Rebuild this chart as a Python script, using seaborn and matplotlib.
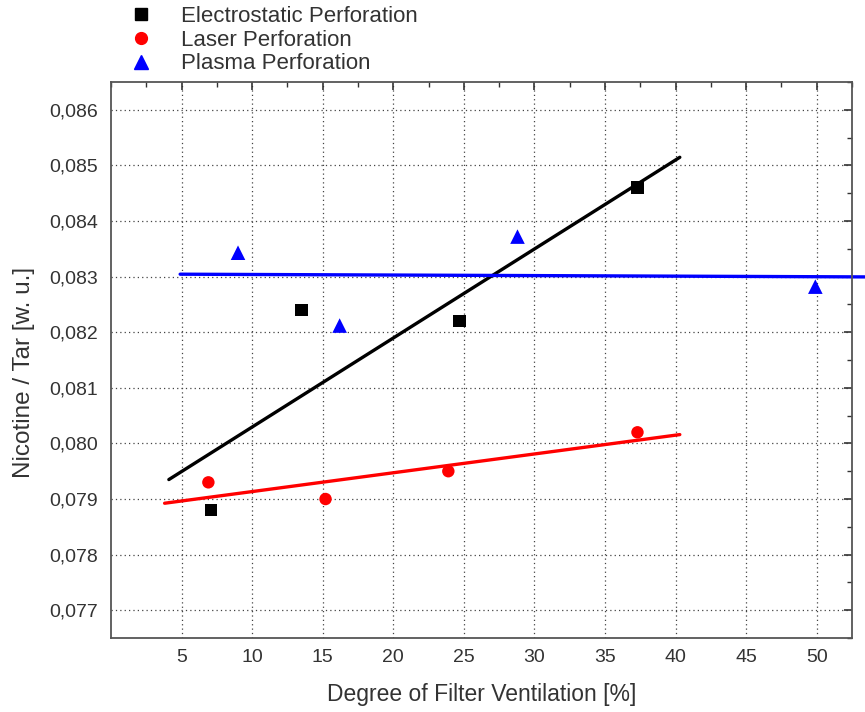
import numpy as np
import pandas as pd
import matplotlib
matplotlib.use("Agg")
import matplotlib.pyplot as plt
import seaborn as sns
from matplotlib.ticker import MultipleLocator, FuncFormatter
from matplotlib.lines import Line2D

sns.set_style("white")
plt.rcParams['font.family'] = ['Liberation Sans', 'DejaVu Sans']

series_names = ["Electrostatic Perforation", "Laser Perforation", "Plasma Perforation"]
electro_x = [7.1, 13.5, 24.7, 37.3]
electro_y = [0.0788, 0.0824, 0.0822, 0.0846]
laser_x = [6.9, 15.2, 23.9, 37.3]
laser_y = [0.0793, 0.0790, 0.0795, 0.0802]
plasma_x = [9.0, 16.2, 28.8, 49.9]
plasma_y = [0.08343, 0.08212, 0.08372, 0.08282]
colors = ["black", "#ff0000", "#0000ff"]
markers = ["s", "o", "^"]
marker_sizes = [80, 80, 110]
# fit-line x extents
fit_ranges = [(4.1, 40.3), (3.8, 40.3), (4.9, 53.4)]

xs = [electro_x, laser_x, plasma_x]
ys = [electro_y, laser_y, plasma_y]

df = pd.DataFrame({
    "x": sum(xs, []),
    "y": sum(ys, []),
    "series": sum([[n] * len(x) for n, x in zip(series_names, xs)], []),
})

fig = plt.figure(figsize=(8.65, 7.12), dpi=100)
ax = fig.add_axes([0.1283, 0.1039, 0.985 - 0.1283, 0.8848 - 0.1039])

ax.set_xlim(0, 52.5)
ax.set_ylim(0.0765, 0.0865)

# fitted lines
for name, x, y, c, (x0, x1) in zip(series_names, xs, ys, colors, fit_ranges):
    k, b = np.polyfit(x, y, 1)
    fx = np.array([x0, x1])
    fd = pd.DataFrame({"x": fx, "y": k * fx + b})
    sns.lineplot(data=fd, x="x", y="y", ax=ax, color=c, lw=2.4, legend=False)
ax.lines[-1].set_clip_on(False)

for name, c, m, sz in zip(series_names, colors, markers, marker_sizes):
    sns.scatterplot(data=df[df["series"] == name], x="x", y="y", color=c, marker=m,
                    s=sz, edgecolor="none", ax=ax, legend=False, zorder=5)

ax.xaxis.set_major_locator(MultipleLocator(5))
ax.xaxis.set_minor_locator(MultipleLocator(2.5))
ax.yaxis.set_major_locator(MultipleLocator(0.001))
ax.yaxis.set_minor_locator(MultipleLocator(0.0005))
ax.set_xticks(np.arange(5, 51, 5))
ax.yaxis.set_major_formatter(FuncFormatter(lambda v, p: f"{v:.3f}".replace(".", ",")))

ax.tick_params(which="both", direction="in", top=True, right=True, colors="#333333",
               labelcolor="#333333")
ax.tick_params(which="major", length=6, width=1.2, labelsize=14)
ax.tick_params(which="minor", length=3.5, width=1.0)
ax.tick_params(axis="x", which="major", pad=8)
ax.tick_params(axis="y", which="major", pad=9.5)

ax.grid(True, which="major", linestyle=(0, (1, 2.5)), color="#444444", lw=0.9)

for s in ax.spines.values():
    s.set_color("#555555")
    s.set_linewidth(1.3)

ax.set_xlabel("Degree of Filter Ventilation [%]", fontsize=16.5, color="#333333", labelpad=12)
ax.set_ylabel("Nicotine / Tar [w. u.]", fontsize=17.5, color="#333333", labelpad=10)
ax.yaxis.set_label_coords(-0.103, 0.478)

handles = [Line2D([], [], linestyle="none", marker=m, color=c, markersize=ms)
           for m, c, ms in zip(markers, colors, [8.5, 8.5, 10])]
leg = fig.legend(handles, series_names, loc="upper left",
                 bbox_to_anchor=(140 / 865 - 0.012, 1 - 6 / 712), frameon=False,
                 fontsize=16, handlelength=1.0, handletextpad=1.3, labelspacing=0.12,
                 borderpad=0, borderaxespad=0)
for t in leg.get_texts():
    t.set_color("#333333")

fig.savefig("out.png", dpi=100)
